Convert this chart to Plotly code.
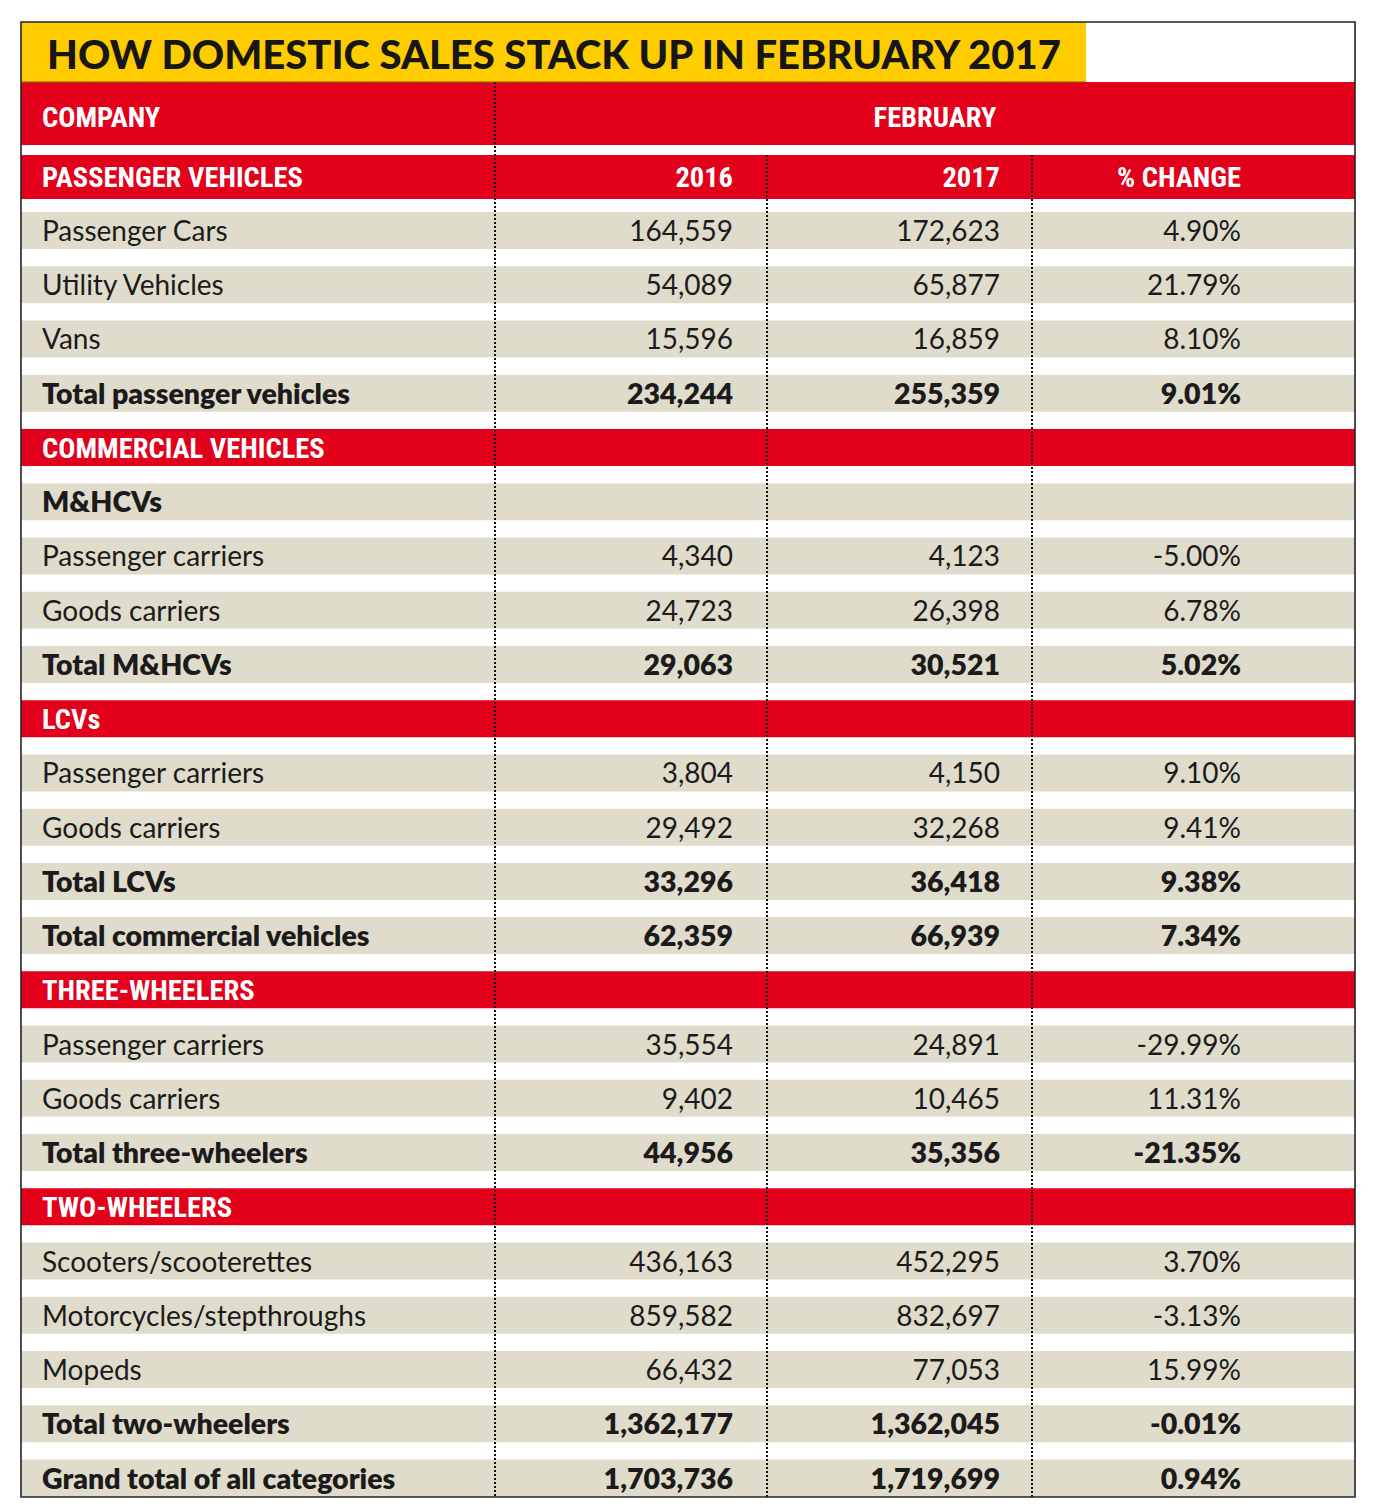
import plotly.graph_objects as go

# ---------------- data ----------------
title = "HOW DOMESTIC SALES STACK UP IN FEBRUARY 2017"
header_company = "COMPANY"
header_month = "FEBRUARY"
header_section = "PASSENGER VEHICLES"
col_headers = ["2016", "2017", "% CHANGE"]

labels = [
    "Passenger Cars", "Utility Vehicles", "Vans", "Total passenger vehicles",
    "COMMERCIAL VEHICLES", "M&HCVs", "Passenger carriers", "Goods carriers",
    "Total M&HCVs", "LCVs", "Passenger carriers", "Goods carriers", "Total LCVs",
    "Total commercial vehicles", "THREE-WHEELERS", "Passenger carriers",
    "Goods carriers", "Total three-wheelers", "TWO-WHEELERS",
    "Scooters/scooterettes", "Motorcycles/stepthroughs", "Mopeds",
    "Total two-wheelers", "Grand total of all categories",
]
# row kinds: n = normal, b = bold total, s = red section, h = bold sub-heading
kinds = ["n", "n", "n", "b", "s", "h", "n", "n", "b", "s", "n", "n", "b", "b",
         "s", "n", "n", "b", "s", "n", "n", "n", "b", "b"]
sales_2016 = [164559, 54089, 15596, 234244, None, None, 4340, 24723, 29063, None,
              3804, 29492, 33296, 62359, None, 35554, 9402, 44956, None,
              436163, 859582, 66432, 1362177, 1703736]
sales_2017 = [172623, 65877, 16859, 255359, None, None, 4123, 26398, 30521, None,
              4150, 32268, 36418, 66939, None, 24891, 10465, 35356, None,
              452295, 832697, 77053, 1362045, 1719699]
pct_change = [4.90, 21.79, 8.10, 9.01, None, None, -5.00, 6.78, 5.02, None,
              9.10, 9.41, 9.38, 7.34, None, -29.99, 11.31, -21.35, None,
              3.70, -3.13, 15.99, -0.01, 0.94]

# ---------------- layout constants (screen-pixel space) ----------------
W, H = 1378, 1509
PAGE_MARGIN = 8  # default body margin of the html page
LEFT, RIGHT, TOP, BOTTOM = 21, 1355, 22, 1497
TITLE_RIGHT, TITLE_BOTTOM = 1086, 82
COMPANY_BAND = (82, 145)
SECTION_BAND = (155, 199)
ROW0, PITCH, BAND_H = 230.5, 54.24, 37
DIV_X = [495, 767, 1032]
TEXT_X_LEFT = 42
NUM_RIGHT = [733, 1000, 1241]
MONTH_X = 935
TEXT_DY = 3.5          # text baseline offset inside a row band
COMPANY_TEXT_DY = 6.5  # "COMPANY"/"FEBRUARY" sit low in their band

RED = "#E2001A"
BEIGE = "#E0DCCB"
YELLOW = "#FFCC00"
INK = "#1b1b1b"

BODY = "Lato, 'Noto Sans', sans-serif"
HEAD = "'Liberation Sans Narrow', 'Noto Sans Condensed', 'Roboto Condensed', Roboto, sans-serif"
TITLE_FONT = "Lato, 'Noto Sans', sans-serif"
HEAD_SIZE = 28.5

n = len(labels)
yc = [ROW0 + i * PITCH for i in range(n)]


def fmt_int(v):
    return "" if v is None else f"{v:,}"


def fmt_pct(v):
    return "" if v is None else f"{v:.2f}%"


fig = go.Figure()

# ---------------- bands as horizontal bars ----------------
band_colors = [RED if k == "s" else BEIGE for k in kinds]
fig.add_trace(go.Bar(
    orientation="h", y=yc, x=[RIGHT - LEFT] * n, base=[LEFT] * n,
    width=[BAND_H] * n, marker=dict(color=band_colors, line=dict(width=0)),
    hoverinfo="skip", showlegend=False,
))
# header bands
hdr_y = [(TOP + TITLE_BOTTOM) / 2, sum(COMPANY_BAND) / 2, sum(SECTION_BAND) / 2]
hdr_h = [TITLE_BOTTOM - TOP, COMPANY_BAND[1] - COMPANY_BAND[0], SECTION_BAND[1] - SECTION_BAND[0]]
hdr_w = [TITLE_RIGHT - LEFT, RIGHT - LEFT, RIGHT - LEFT]
fig.add_trace(go.Bar(
    orientation="h", y=hdr_y, x=hdr_w, base=[LEFT] * 3, width=hdr_h,
    marker=dict(color=[YELLOW, RED, RED], line=dict(width=0)),
    hoverinfo="skip", showlegend=False,
))

# ---------------- dotted column dividers ----------------
for j, xv in enumerate(DIV_X):
    y_start = COMPANY_BAND[0] if j == 0 else SECTION_BAND[0]
    fig.add_trace(go.Scatter(
        x=[xv, xv], y=[y_start, BOTTOM], mode="lines",
        line=dict(color="#111111", width=2, dash="2px,2px"),
        hoverinfo="skip", showlegend=False,
    ))

# outer border
fig.add_shape(type="rect", xref="x", yref="y", x0=LEFT, x1=RIGHT, y0=TOP, y1=BOTTOM,
              line=dict(color="#222222", width=1.6), fillcolor="rgba(0,0,0,0)", layer="above")
fig.add_shape(type="line", xref="x", yref="y", x0=LEFT, x1=TITLE_RIGHT, y0=TITLE_BOTTOM, y1=TITLE_BOTTOM,
              line=dict(color="#7a6a00", width=1), layer="above")


# ---------------- text ----------------
def add_text(xs, ys, texts, pos, family, size, color, weight):
    fig.add_trace(go.Scatter(
        x=xs, y=ys, text=texts, mode="text", textposition=pos,
        textfont=dict(family=family, size=size, color=color, weight=weight),
        hoverinfo="skip", showlegend=False, cliponaxis=False,
    ))


# title
add_text([47], [hdr_y[0] + 7], [title], "middle right", TITLE_FONT, 40, "#161616", 900)
# header rows
add_text([TEXT_X_LEFT], [hdr_y[1] + COMPANY_TEXT_DY], [header_company], "middle right", HEAD, HEAD_SIZE, "white", 700)
add_text([MONTH_X], [hdr_y[1] + COMPANY_TEXT_DY], [header_month], "middle center", HEAD, HEAD_SIZE, "white", 700)
add_text([TEXT_X_LEFT], [hdr_y[2] + 2.5], [header_section], "middle right", HEAD, HEAD_SIZE, "white", 700)
add_text(NUM_RIGHT, [hdr_y[2] + 2.5] * 3, col_headers, "middle left", HEAD, HEAD_SIZE, "white", 700)

# body rows
for kind_set, family, size, color, weight in [
    (("n",), BODY, 28, INK, 400),
    (("b", "h"), BODY, 28.5, INK, 800),
    (("s",), HEAD, HEAD_SIZE, "white", 700),
]:
    idx = [i for i in range(n) if kinds[i] in kind_set]
    add_text([TEXT_X_LEFT] * len(idx), [yc[i] + TEXT_DY for i in idx],
             [labels[i] for i in idx], "middle right", family, size, color, weight)
    if kind_set[0] in ("n", "b"):
        for col, vals in enumerate([sales_2016, sales_2017, pct_change]):
            f = fmt_pct if col == 2 else fmt_int
            add_text([NUM_RIGHT[col]] * len(idx), [yc[i] + TEXT_DY for i in idx],
                     [f(vals[i]) for i in idx], "middle left", family, size, color, weight)

# the page adds an 8px body margin; size and shift the axes so that
# axis units coincide with screen pixels of the 1378x1509 window
fig.update_layout(
    width=W - 2 * PAGE_MARGIN, height=H - 2 * PAGE_MARGIN,
    margin=dict(l=0, r=0, t=0, b=0),
    paper_bgcolor="white", plot_bgcolor="white", barmode="overlay",
    xaxis=dict(range=[PAGE_MARGIN, W - PAGE_MARGIN], visible=False, fixedrange=True),
    yaxis=dict(range=[H - PAGE_MARGIN, PAGE_MARGIN], visible=False, fixedrange=True),
)

fig.write_html("out.html")
